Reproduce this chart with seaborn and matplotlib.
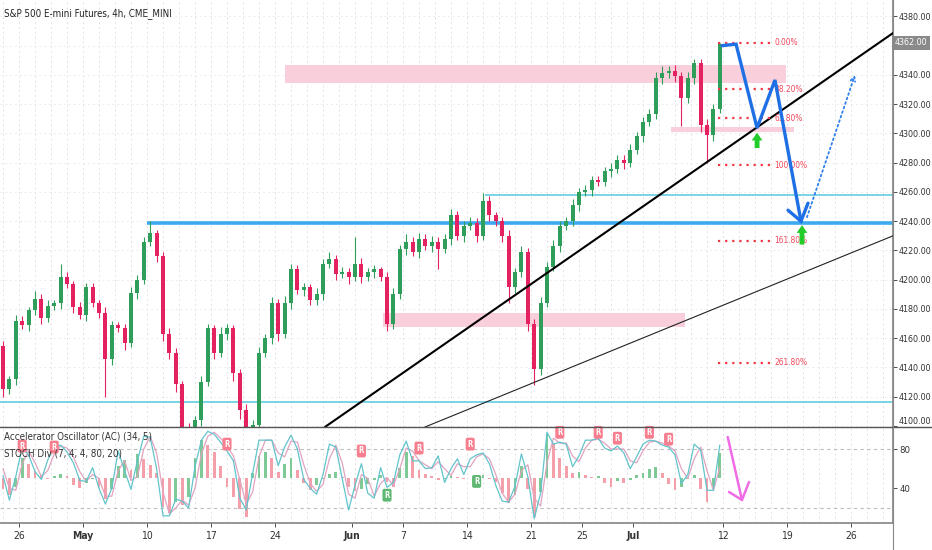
import numpy as np
import matplotlib
matplotlib.use('Agg')
import matplotlib.pyplot as plt
import matplotlib.transforms as mtransforms
from matplotlib.lines import Line2D
from matplotlib.patches import Rectangle
import seaborn as sns

sns.set_theme(style='white')
plt.rcParams['font.family'] = ['DejaVu Sans']
plt.rcParams['font.stretch'] = 'condensed'

# ---- price data: 4h futures, resampled to half-day candles (x in trading days from Apr 26) ----
first_open = 4155
closes = [4125, 4132, 4172, 4169, 4179, 4187, 4174, 4182, 4184, 4202,
          4197, 4181, 4176, 4195, 4184, 4177, 4146, 4169, 4167, 4157,
          4191, 4200, 4226, 4232, 4216, 4163, 4150, 4129, 4097, 4080,
          4104, 4130, 4167, 4150, 4163, 4167, 4136, 4111, 4087, 4101,
          4150, 4160, 4184, 4163, 4184, 4207, 4193, 4195, 4186, 4190,
          4211, 4214, 4204, 4205, 4202, 4211, 4202, 4205, 4207, 4202,
          4170, 4190, 4221, 4226, 4219, 4228, 4223, 4226, 4221, 4228,
          4244, 4230, 4237, 4239, 4230, 4254, 4244, 4240, 4230, 4195,
          4205, 4219, 4170, 4139, 4184, 4209, 4223, 4237, 4240, 4251,
          4260, 4261, 4268, 4267, 4274, 4276, 4282, 4280, 4289, 4298,
          4308, 4313, 4338, 4341, 4343, 4339, 4324, 4338, 4348, 4306,
          4299, 4317, 4361]
wick_up = [3, 2, 4, 3, 2, 5, 3, 4, 2, 9, 3, 2, 4, 3, 3, 2, 4, 3, 2, 3,
           4, 3, 3, 8, 2, 3, 4, 3, 2, 5, 3, 4, 3, 2, 5, 3, 2, 3, 4, 3,
           4, 3, 4, 3, 5, 4, 3, 3, 2, 4, 3, 5, 3, 4, 3, 18, 4, 3, 3, 2,
           3, 4, 3, 5, 3, 4, 3, 4, 3, 3, 4, 3, 3, 4, 3, 5, 3, 2, 3, 4,
           3, 4, 3, 3, 4, 3, 4, 3, 3, 4, 3, 4, 3, 3, 3, 4, 3, 3, 4, 3,
           3, 4, 4, 5, 3, 4, 3, 4, 3, 3, 4, 3, 1]
wick_dn = [5, 3, 4, 3, 4, 3, 4, 3, 3, 4, 3, 4, 3, 4, 3, 3, 26, 4, 3, 5,
           3, 4, 3, 3, 4, 5, 4, 6, 8, 6, 5, 4, 3, 4, 3, 4, 5, 6, 7, 5,
           4, 3, 4, 5, 3, 4, 3, 4, 3, 3, 4, 3, 4, 3, 5, 3, 4, 3, 4, 3,
           5, 4, 3, 4, 3, 4, 3, 4, 14, 3, 4, 3, 4, 3, 4, 3, 4, 3, 4, 11,
           4, 3, 5, 11, 4, 3, 3, 4, 3, 3, 4, 3, 4, 3, 3, 4, 3, 4, 3, 3,
           4, 3, 3, 4, 3, 4, 19, 3, 4, 5, 19, 4, 3]

# ---- oscillator pane ----
stoch_k = [53, 28, 52, 82, 74, 57, 49, 69, 82, 84, 77, 66, 48, 47, 61, 40, 24, 40, 78, 58,
           39, 68, 93, 92, 60, 12, 12, 29, 27, 20, 62, 89, 98, 95, 87, 78, 68, 30, 18, 55,
           89, 89, 89, 63, 82, 94, 80, 49, 40, 34, 54, 85, 82, 50, 18, 43, 65, 35, 30, 61,
           41, 46, 74, 88, 68, 68, 60, 61, 73, 46, 60, 70, 54, 70, 74, 76, 65, 43, 27, 26,
           42, 75, 52, 9, 35, 97, 85, 87, 85, 62, 73, 89, 89, 91, 81, 78, 83, 76, 60, 72,
           85, 89, 88, 84, 82, 74, 45, 54, 85, 79, 38, 38, 84]
stoch_d = [60, 40, 38, 65, 78, 66, 52, 58, 75, 83, 81, 72, 57, 47, 54, 50, 32, 32, 58, 68,
           48, 52, 80, 93, 76, 36, 14, 20, 28, 23, 40, 75, 93, 97, 91, 83, 73, 49, 24, 36,
           72, 89, 89, 76, 72, 88, 87, 64, 45, 37, 44, 70, 84, 66, 34, 30, 54, 50, 32, 45,
           51, 43, 60, 81, 78, 68, 64, 60, 67, 60, 53, 65, 62, 62, 72, 75, 70, 54, 35, 26,
           34, 58, 64, 30, 22, 66, 91, 86, 86, 73, 67, 81, 89, 90, 86, 80, 80, 80, 68, 66,
           78, 87, 88, 86, 83, 78, 60, 50, 70, 82, 58, 38, 61]
ac_vals = [-12, -18, -10, 20, 14, 7, 3, -2, 2, 4, 2, -8, -11, -6, -2, -10, -22, -12, 12, 18,
           8, 24, 19, 13, 5, -30, -36, -25, -28, -20, 20, 38, 33, 26, 12, -10, -20, -32, -40, 5,
           22, 26, 20, 6, 14, 20, 8, -6, -13, -8, -2, 4, 6, 1, -10, -14, -12, -7, -3, 3,
           -5, -10, 10, 26, 22, 8, 4, 2, -3, -2, 2, 1, -2, 0, 2, 3, -2, -5, -16, -26,
           -18, 12, -12, -40, -15, 44, 35, 20, 12, 5, 6, 3, 1, 2, -6, -10, -4, -6, -3, 3,
           5, 9, 11, 5, -7, -13, -10, -2, 3, -12, -25, -10, 25]
ac_base = 51
r_red_idx = [3, 8, 35, 56, 65, 73, 87, 93, 96, 101, 104]
r_red_val = [83, 82, 85, 78, 81, 85, 97, 97, 91, 97, 90]
r_green_idx = [60, 74]
r_green_val = [33, 47]

# ---- drawings (trading day, price) ----
fib_prices = [4362, 4330.1, 4310.3, 4278.4, 4226.7, 4143.1]
fib_labels = ['0.00%', '38.20%', '61.80%', '100.00%', '161.80%', '261.80%']
zones = [(20.78, 59.92, 4334.4, 4346.8), (50.94, 60.55, 4301.0, 4304.4), (28.44, 52.03, 4167.7, 4177.3)]
path_x = [54.92, 56.02, 57.66, 59.06, 61.09]
path_y = [4360, 4361, 4303.7, 4336.5, 4240]
head_x = [60.08, 61.09, 61.64]
head_y = [4247.5, 4240, 4252.3]
trend_thick = ([23.9, 68.28], [4099.3, 4368.6])
trend_thin = ([31.72, 68.28], [4099.3, 4230.0])
tick_days = [0, 5, 10, 15, 20, 26, 30, 35, 40, 44, 48, 55, 60, 65]
tick_names = ['26', 'May', '10', '17', '24', 'Jun', '7', '14', '21', '25', 'Jul', '12', '19', '26']

GREEN = '#2f9e5a'
RED = '#e3225f'
XMIN, XMAX = -1.484, 68.28

closes = np.array(closes, float)
bar_days = np.arange(len(closes)) * 0.5 - 1.25
opens = np.r_[first_open, closes[:-1]]
highs = np.maximum(opens, closes) + np.array(wick_up)
lows = np.minimum(opens, closes) - np.array(wick_dn)
cols = np.where(closes >= opens, GREEN, RED)

fig = plt.figure(figsize=(9.32, 5.5), dpi=100)
ax = fig.add_axes([0, 1 - 427 / 550, 893 / 932, 427 / 550])
ax2 = fig.add_axes([0, 1 - 523 / 550, 893 / 932, 96 / 550], sharex=ax)

grid_days = np.arange(-1.25, 69, 1.25)
for a in (ax, ax2):
    for g in grid_days:
        a.axvline(g, color='#e3e3e3', lw=0.7, ls=(0, (2, 3)), zorder=0)
    for s in ('left', 'top', 'bottom'):
        a.spines[s].set_visible(False)
    a.spines['right'].set_color('#888888')
    a.yaxis.tick_right()

# main pane
price_ticks = [4100, 4120, 4140, 4160, 4180, 4200, 4220, 4240, 4260, 4280, 4300, 4320, 4340, 4380]
for t in price_ticks + [4360]:
    ax.axhline(t, color='#ececec', lw=0.7, ls=(0, (2, 3)), zorder=0)

for x0, x1, lo, hi in zones:
    ax.add_patch(Rectangle((x0, lo), x1 - x0, hi - lo, color='#f9cfdc', lw=0, zorder=1))

ax.hlines(4116.5, XMIN, XMAX, color='#62cde0', lw=1.2, zorder=2)
ax.hlines(4258, 36.4, XMAX, color='#62cde0', lw=1.2, zorder=2)
ax.hlines(4239, 10.0, XMAX, color='#3daaf0', lw=2.6, zorder=2)

ax.vlines(bar_days, lows, highs, colors=cols, lw=0.8, zorder=3)
ax.bar(bar_days, np.maximum(np.abs(closes - opens), 0.8), bottom=np.minimum(opens, closes),
       width=0.3, color=cols, lw=0, zorder=3)

ax.plot(*trend_thick, color='black', lw=1.5, zorder=4)
ax.plot(*trend_thin, color='#222222', lw=0.8, zorder=4)

for p, lab in zip(fib_prices, fib_labels):
    ax.plot([54.6, 58.7], [p, p], color='#f23645', lw=1.6, ls=(0, (1, 2.2)), zorder=4)
    ax.text(59.0, p, lab, color='#f0485b', fontsize=6, va='center', ha='left', zorder=4)

ax.plot(path_x, path_y, color='#1f6fe5', lw=2.4, zorder=6, solid_joinstyle='miter')
ax.plot(head_x, head_y, color='#1f6fe5', lw=2.4, zorder=6, solid_joinstyle='miter')
ax.annotate('', xy=(65.31, 4340), xytext=(61.56, 4242.7),
            arrowprops=dict(arrowstyle='->', ls=':', color='#2f80ed', lw=1.3,
                            shrinkA=0, shrinkB=0, mutation_scale=8), zorder=6)
for ax_x, top, bot in [(57.66, 4300.5, 4290.0), (61.17, 4237.3, 4224.0)]:
    ax.annotate('', xy=(ax_x, top), xytext=(ax_x, bot),
                arrowprops=dict(arrowstyle='simple,head_width=1.1,head_length=0.8,tail_width=0.5',
                                color='#22cc2a', lw=0, shrinkA=0, shrinkB=0, mutation_scale=7),
                zorder=7)

ax.set_xlim(XMIN, XMAX)
ax.set_ylim(4099.3, 4391.2)
ax.set_yticks(price_ticks)
ax.set_yticklabels([f'{t:.2f}' for t in price_ticks])
ax.tick_params(axis='y', labelsize=6.4, colors='#333333', length=3, width=0.6, pad=1)
ax.tick_params(axis='x', bottom=False, labelbottom=False)
ax.get_yticklabels()[0].set_va('bottom')
trans = mtransforms.blended_transform_factory(ax.transAxes, ax.transData)
ax.text(1.002, 4362, '4362.00', transform=trans, fontsize=6.4, color='white', va='center', ha='left',
        bbox=dict(boxstyle='square,pad=0.3', fc='#8a8a8a', ec='none'), zorder=8, clip_on=False)

# oscillator pane
ax2.axhline(80, color='#bdbdbd', lw=0.8, ls=(0, (3, 3)), zorder=0)
ax2.axhline(20, color='#bdbdbd', lw=0.8, ls=(0, (3, 3)), zorder=0)
ac = np.array(ac_vals, float)
ac_cols = ['#f4a0ab'] + ['#7ec995' if ac[i] > ac[i - 1] else '#f4a0ab' for i in range(1, len(ac))]
ax2.bar(bar_days, ac, bottom=ac_base, width=0.22, color=ac_cols, lw=0, zorder=1)
sns.lineplot(x=bar_days, y=stoch_d, ax=ax2, color='#e0a3c0', lw=0.9, zorder=2)
sns.lineplot(x=bar_days, y=stoch_k, ax=ax2, color='#62c4cc', lw=0.9, zorder=3)
for i, v in zip(r_red_idx, r_red_val):
    ax2.text(bar_days[i], v, 'R', ha='center', va='center', fontsize=5.5, color='white',
             fontweight='bold', zorder=5, bbox=dict(boxstyle='round,pad=0.25', fc='#f77e8e', ec='none'))
for i, v in zip(r_green_idx, r_green_val):
    ax2.text(bar_days[i], v, 'R', ha='center', va='center', fontsize=5.5, color='white',
             fontweight='bold', zorder=5, bbox=dict(boxstyle='round,pad=0.25', fc='#5fb872', ec='none'))
ax2.plot([55.37, 56.48], [92.2, 28.1], color='#f06be6', lw=1.8, zorder=6)
ax2.plot([55.47, 56.48, 57.03], [36.3, 28.1, 46.4], color='#f06be6', lw=1.8, zorder=6)
ax2.text(0.004, 0.896, 'Accelerator Oscillator (AC) (34, 5)', transform=ax2.transAxes,
         fontsize=7, color='#333333', va='center', zorder=7)
ax2.text(0.004, 0.719, 'STOCH Div (7, 4, 4, 80, 20)', transform=ax2.transAxes,
         fontsize=7, color='#333333', va='center', zorder=7)
ax2.set_ylim(4.7, 102.4)
ax2.set_yticks([40, 80])
ax2.set_yticklabels(['40', '80'])
ax2.set_ylabel('')
ax2.tick_params(axis='y', labelsize=6.8, colors='#333333', length=3, width=0.6, pad=1.5)
ax2.set_xticks(tick_days)
ax2.set_xticklabels(tick_names)
for lab in ax2.get_xticklabels():
    if lab.get_text() in ('May', 'Jun', 'Jul'):
        lab.set_fontweight('bold')
ax2.tick_params(axis='x', labelsize=7.5, colors='#333333', length=3, width=0.6, pad=3, bottom=True)
ax2.spines['bottom'].set_visible(True)
ax2.spines['bottom'].set_color('#888888')
ax2.set_xlim(XMIN, XMAX)

fig.add_artist(Line2D([0, 1], [1 - 427 / 550] * 2, color='#555555', lw=1.0))
fig.add_artist(Line2D([893 / 932] * 2, [0, 1], color='#888888', lw=0.8))
fig.text(4 / 932, 1 - 14 / 550, 'S&P 500 E-mini Futures, 4h, CME_MINI', fontsize=7,
         color='#222222', va='center', ha='left')

fig.savefig('out.png', dpi=100)
